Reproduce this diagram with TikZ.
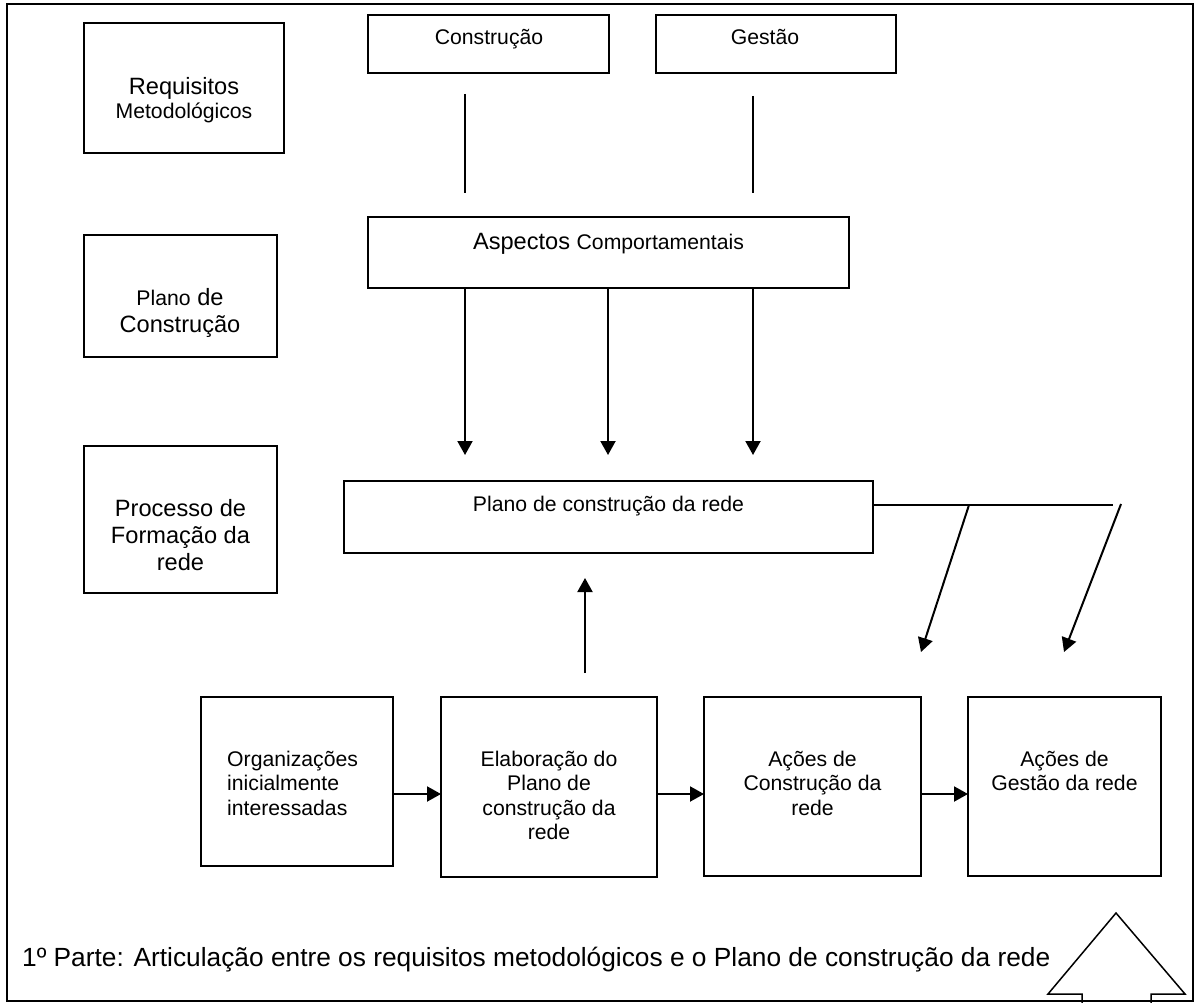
\documentclass[tikz,border=0pt]{standalone}
\usepackage{fontspec}
\setmainfont{Liberation Sans}
\usetikzlibrary{arrows.meta}
\begin{document}
\begin{tikzpicture}[x=1pt,y=-1pt,
  box/.style={draw, line width=2pt, inner sep=0pt, outer sep=0pt, anchor=north west},
  conn/.style={line width=2pt},
  arr/.style={conn, -{Triangle[length=14pt,width=15pt]}},
  txt/.style={anchor=base, inner sep=0pt, font=\fontsize{21.2}{24}\selectfont},
  big/.style={txt, font=\fontsize{23.6}{27}\selectfont},
  txtl/.style={txt, anchor=base west}]
\useasboundingbox (0,0) rectangle (1199,1003);
\fill[white] (0,0) rectangle (1199,1003);
% outer frame
\node[box, minimum width=1186pt, minimum height=997pt] (frame) at (7,4) {};
% boxes
\node[box, minimum width=200pt, minimum height=130pt] (req) at (84,23) {};
\node[box, minimum width=193pt, minimum height=122pt] (plc) at (84,235) {};
\node[box, minimum width=193pt, minimum height=147pt] (proc) at (84,446) {};
\node[box, minimum width=241pt, minimum height=58pt] (cons) at (368,15) {};
\node[box, minimum width=240pt, minimum height=58pt] (gest) at (656,15) {};
\node[box, minimum width=481pt, minimum height=71pt] (asp) at (368,217) {};
\node[box, minimum width=529pt, minimum height=72pt] (plano) at (344,481) {};
\node[box, minimum width=192pt, minimum height=169pt] (org) at (201,697) {};
\node[box, minimum width=216pt, minimum height=180pt] (elab) at (441,697) {};
\node[box, minimum width=217pt, minimum height=179pt] (acons) at (704,697) {};
\node[box, minimum width=193pt, minimum height=179pt] (agest) at (968,697) {};
% texts
\node[big] (reqA) at (184,95) {Requisitos};
\node[txt] (reqB) at (184,119) {Metodológicos};
\node[big] (plcA) at (180,305) {{\fontsize{21.2}{24}\selectfont Plano} de};
\node[big] (plcB) at (180,332) {Construção};
\node[big] (procA) at (180.5,516) {Processo de};
\node[big] (procB) at (180.5,543) {Formação da};
\node[big] (procC) at (180.5,570) {rede};
\node[txt] (consT) at (489,45) {Construção};
\node[txt] (gestT) at (765,45) {Gestão};
\node[big] (aspT) at (608.5,249) {Aspectos {\fontsize{21.2}{24}\selectfont Comportamentais}};
\node[txt] (planoT) at (608.5,511) {Plano de construção da rede};
\node[txtl] (orgA) at (227,766) {Organizações};
\node[txtl] (orgB) at (227,790) {inicialmente};
\node[txtl] (orgC) at (227,815) {interessadas};
\node[txt] (elabA) at (549,766) {Elaboração do};
\node[txt] (elabB) at (549,790) {Plano de};
\node[txt] (elabC) at (549,815) {construção da};
\node[txt] (elabD) at (549,839) {rede};
\node[txt] (aconsA) at (812.5,766) {Ações de};
\node[txt] (aconsB) at (812.5,790) {Construção da};
\node[txt] (aconsC) at (812.5,815) {rede};
\node[txt] (agestA) at (1064.5,766) {Ações de};
\node[txt] (agestB) at (1064.5,790) {Gestão da rede};
\node[txt, anchor=base west, font=\fontsize{26.3}{30}\selectfont] (caption) at (22,966) {1º Parte: Articulação entre os requisitos metodológicos e o Plano de construção da rede};
% free-standing lines under Construção and Gestão
\coordinate (l1t) at (465,94);  \coordinate (l1b) at (465,193);
\coordinate (l2t) at (753,96);  \coordinate (l2b) at (753,193);
\draw[conn] (l1t) -- (l1b);
\draw[conn] (l2t) -- (l2b);
% arrows from Aspectos
\coordinate (a1) at (465,455);
\coordinate (a2) at (608,455);
\coordinate (a3) at (753,455);
\draw[arr] (asp.south -| a1) -- (a1);
\draw[arr] (asp.south -| a2) -- (a2);
\draw[arr] (asp.south -| a3) -- (a3);
% upward arrow
\coordinate (u0) at (585,673);
\coordinate (u1) at (585,578);
\draw[arr] (u0) -- (u1);
% horizontal line and diagonal arrows
\coordinate (h1) at (1113,505);
\draw[conn] (plano.east |- h1) -- (h1);
\coordinate (d1s) at (969,505); \coordinate (d1e) at (921,652);
\coordinate (d2s) at (1121,504); \coordinate (d2e) at (1064,652);
\draw[arr] (d1s) -- (d1e);
\draw[arr] (d2s) -- (d2e);
% arrows between bottom boxes
\coordinate (hy) at (0,794);
\draw[arr] (org.east |- hy) -- (elab.west |- hy);
\draw[arr] (elab.east |- hy) -- (acons.west |- hy);
\draw[arr] (acons.east |- hy) -- (agest.west |- hy);
% big hollow up arrow
\draw[line width=1.5pt] (1082,1003) -- (1082,994) -- (1048,994) -- (1116,913) -- (1185,994) -- (1151,994) -- (1151,1003);
\end{tikzpicture}
\end{document}
